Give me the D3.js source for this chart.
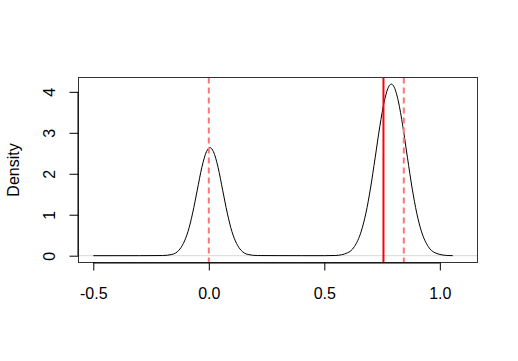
<!DOCTYPE html>
<html>
<head>
<meta charset="utf-8">
<script src="https://cdn.jsdelivr.net/npm/d3@7"></script>
<style>
  body { margin: 0; background: #fff; }
  text { font-family: "Liberation Sans", Arial, sans-serif; }
</style>
</head>
<body>
<svg id="chart" width="518" height="361"></svg>
<script>
// density curve
const densX = [-0.50, -0.30, -0.20, -0.16, -0.13, -0.11, -0.09, -0.07, -0.05, -0.03, -0.01, 0.005,
  0.02, 0.04, 0.06, 0.08, 0.10, 0.12, 0.14, 0.17, 0.21, 0.30, 0.40, 0.50,
  0.55, 0.60, 0.63, 0.66, 0.68, 0.70, 0.72, 0.74, 0.76, 0.78, 0.79,
  0.80, 0.82, 0.84, 0.86, 0.88, 0.90, 0.92, 0.95, 0.98, 1.03, 1.056];
const densY = [0.000, 0.001, 0.004, 0.03, 0.13, 0.30, 0.59, 1.04, 1.60, 2.16, 2.54, 2.64,
  2.54, 2.16, 1.60, 1.04, 0.59, 0.30, 0.13, 0.03, 0.004, 0.002, 0.001, 0.001,
  0.006, 0.07, 0.22, 0.60, 1.04, 1.65, 2.39, 3.15, 3.78, 4.14, 4.19,
  4.14, 3.78, 3.15, 2.39, 1.65, 1.04, 0.60, 0.22, 0.07, 0.006, 0.001];

const xTicks = [-0.5, 0.0, 0.5, 1.0];
const yTicks = [0, 1, 2, 3, 4];
const solidLines = [0.756];
const dashedLines = [0.0, 0.844];

const svg = d3.select('#chart');
const box = { left: 78.5, right: 477.5, top: 77.5, bottom: 262.5 };
const fontSize = 16;

const x = d3.scaleLinear().domain([-0.564, 1.163]).range([box.left, box.right]);
const y = d3.scaleLinear().domain([-0.166, 4.35]).range([box.bottom, box.top]);

// zero line
svg.append('line')
  .attr('x1', box.left).attr('x2', box.right)
  .attr('y1', y(0)).attr('y2', y(0))
  .attr('stroke', '#d8d8d8').attr('stroke-width', 1);

// density
const pts = densX.map((d, i) => [d, densY[i]]);
svg.append('path')
  .datum(pts)
  .attr('d', d3.line().x(d => x(d[0])).y(d => y(d[1])).curve(d3.curveMonotoneX))
  .attr('fill', 'none')
  .attr('stroke', '#000')
  .attr('stroke-width', 1);

// vertical reference lines
svg.selectAll('.vdash').data(dashedLines).enter().append('line')
  .attr('class', 'vdash')
  .attr('x1', d => x(d)).attr('x2', d => x(d))
  .attr('y1', box.top).attr('y2', box.bottom)
  .attr('stroke', '#ff7575').attr('stroke-width', 2)
  .attr('stroke-dasharray', '6,4');

svg.selectAll('.vsolid').data(solidLines).enter().append('line')
  .attr('class', 'vsolid')
  .attr('x1', d => x(d)).attr('x2', d => x(d))
  .attr('y1', box.top).attr('y2', box.bottom)
  .attr('stroke', '#ff0000').attr('stroke-width', 2);

// box
svg.append('rect')
  .attr('x', box.left).attr('y', box.top)
  .attr('width', box.right - box.left).attr('height', box.bottom - box.top)
  .attr('fill', 'none').attr('stroke', '#333').attr('stroke-width', 1);

// x axis
const xAxis = svg.append('g')
  .attr('transform', `translate(0, ${box.bottom})`)
  .call(d3.axisBottom(x).tickValues(xTicks).tickSize(8).tickPadding(17));
xAxis.select('.domain').attr('d', `M${x(-0.5)},0.5H${x(1.0)}`).attr('stroke', '#000');
xAxis.selectAll('text').attr('font-size', fontSize).attr('fill', '#000')
  .text(d => d3.format('.1f')(d).replace('−', '-'));

// y axis, labels rotated like R's default las = 0
const yAxis = svg.append('g')
  .attr('transform', `translate(${box.left}, 0)`)
  .call(d3.axisLeft(y).tickValues(yTicks).tickFormat(d3.format('d')).tickSize(9));
yAxis.select('.domain').attr('d', `M-0.5,${y(0)}V${y(4)}`).attr('stroke', '#000');
yAxis.selectAll('.tick text')
  .attr('font-size', fontSize).attr('fill', '#000')
  .attr('text-anchor', 'middle')
  .attr('x', 0).attr('y', 0)
  .attr('dy', '0.35em')
  .attr('transform', 'translate(-29, 0) rotate(-90)');

svg.append('text')
  .attr('transform', `translate(19, ${(box.top + box.bottom) / 2}) rotate(-90)`)
  .attr('text-anchor', 'middle')
  .attr('font-size', fontSize)
  .text('Density');
</script>
</body>
</html>
